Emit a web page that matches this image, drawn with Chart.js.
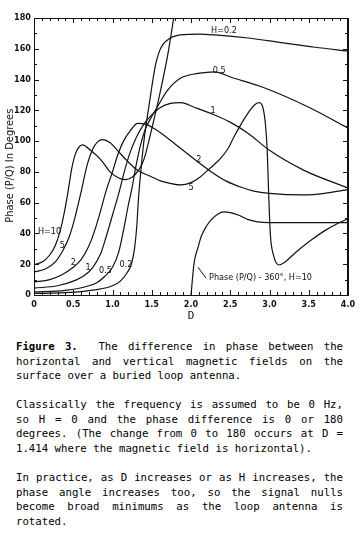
<!DOCTYPE html>
<html lang="en">
<head>
<meta charset="UTF-8">
<title>Phase difference between horizontal and vertical fields</title>
<script src="https://cdn.jsdelivr.net/npm/chart.js"></script>
<style>
  body { margin: 0; background: #fff; }
  #wrap { position: relative; width: 360px; height: 536px; overflow: hidden; }
  #chartBox { position: absolute; left: 0; top: 0; width: 360px; height: 325px; }
  .caption { position: absolute; left: 16px; width: 327px; font-family: 'DejaVu Sans Mono', monospace; font-size: 10.7px; color: #000; }
  .ln { height: 14.7px; line-height: 14.7px; white-space: nowrap; }
  .j { text-align: justify; text-align-last: justify; white-space: normal; overflow: hidden; }
</style>
</head>
<body>
<div id="wrap">
  <div id="chartBox"><canvas id="phaseChart"></canvas></div>

  <div class="caption" style="top:340px">
    <div class="ln j"><b>Figure 3.</b>&nbsp; The difference in phase between the</div>
    <div class="ln j">horizontal and vertical magnetic fields on the</div>
    <div class="ln">surface over a buried loop antenna.</div>
  </div>
  <div class="caption" style="top:398px">
    <div class="ln j">Classically the frequency is assumed to be 0 Hz,</div>
    <div class="ln j">so H = 0 and the phase difference is 0 or 180</div>
    <div class="ln j">degrees. (The change from 0 to 180 occurs at D =</div>
    <div class="ln">1.414 where the magnetic field is horizontal).</div>
  </div>
  <div class="caption" style="top:471px">
    <div class="ln j">In practice, as D increases or as H increases, the</div>
    <div class="ln j">phase angle increases too, so the signal nulls</div>
    <div class="ln j">become broad minimums as the loop antenna is</div>
    <div class="ln">rotated.</div>
  </div>
</div>

<script>
// axis ticks
const dTicks = [0, 0.5, 1, 1.5, 2, 2.5, 3, 3.5, 4];
const phaseTicks = [0, 20, 40, 60, 80, 100, 120, 140, 160, 180];
const yTitle = 'Phase (P/Q) In Degrees';

// phase (degrees) vs D, one list per H
const h02 = [[0,1],[0.4,1.5],[0.8,3.5],[1.0,6],[1.1,9],[1.18,14],[1.24,20],[1.28,30],[1.31,45],[1.33,62],[1.36,80],[1.4,100],[1.45,118],[1.5,135],[1.55,150],[1.62,161],[1.74,167],[1.87,169],[2.1,169.5],[2.3,169],[2.73,167],[3.15,164],[3.58,161],[4.0,158.5]];
const h05 = [[0,2],[0.4,3],[0.7,6],[0.8,8],[0.9,12],[1.0,18],[1.08,28],[1.14,42],[1.2,58],[1.25,70],[1.3,84],[1.36,98],[1.42,108],[1.5,116],[1.58,123],[1.7,133],[1.87,141],[2.09,144],[2.3,145],[2.51,141.5],[2.94,134.5],[3.5,122],[4.0,108.5]];
const h1 = [[0,4.5],[0.3,6],[0.5,9],[0.65,13],[0.75,18],[0.85,27],[0.92,38],[1.0,52],[1.08,66],[1.15,80],[1.22,92],[1.3,102],[1.4,111],[1.5,117],[1.6,121.5],[1.74,124.5],[1.87,125],[2.04,122],[2.3,117],[2.51,112],[2.73,105],[3.0,94],[3.44,81],[4.0,69.5]];
const h2 = [[0,8.5],[0.2,10],[0.35,13],[0.5,18],[0.6,23],[0.7,32],[0.78,43],[0.85,55],[0.92,68],[1.0,80],[1.06,90],[1.14,100],[1.23,107],[1.32,111.5],[1.42,111],[1.55,107.5],[1.65,104],[1.8,98],[1.95,92],[2.1,86],[2.26,80],[2.45,74],[2.64,70],[2.8,67.5],[3.0,66],[3.44,65],[3.7,66],[4.0,68.5]];
const h5 = [[0,15],[0.15,17],[0.28,22],[0.38,30],[0.45,38],[0.52,50],[0.6,67],[0.68,85],[0.75,95],[0.81,99.5],[0.87,101],[0.97,99],[1.08,93],[1.19,87],[1.32,81],[1.49,77],[1.62,74],[1.74,72.5],[1.87,71.5],[2.0,73],[2.1,76],[2.19,80],[2.3,85],[2.38,89],[2.47,95],[2.55,103],[2.65,112],[2.75,120],[2.82,124],[2.87,125],[2.92,121],[2.95,110],[2.97,95],[2.99,65],[3.01,40],[3.05,26],[3.12,19.5],[3.2,21.5],[3.27,24.7],[3.4,30.5],[3.54,36],[3.71,42],[3.85,46],[4.0,49.5]];
const h10 = [[0,19.5],[0.12,22],[0.2,26],[0.27,32],[0.33,41],[0.38,52],[0.43,66],[0.48,82],[0.53,92],[0.58,96.5],[0.62,97.5],[0.72,94],[0.85,88],[0.97,80],[1.08,76],[1.16,75],[1.25,76.5],[1.33,81],[1.4,88],[1.5,108],[1.6,130],[1.7,155],[1.77,177],[1.8,188]];
// same H=10 curve past 360 degrees, plotted as phase - 360
const h10Minus360 = [[1.995,-3],[2.04,21],[2.09,31],[2.13,38],[2.2,45],[2.26,49],[2.34,52.5],[2.42,54],[2.5,53.5],[2.6,52],[2.73,49],[2.85,47.5],[2.99,47],[3.5,47],[4.0,47]];

// curve labels, placed at (D, phase)
const curveLabels = [
  ['H=10', 0.05, 41, 'left'], ['5', 0.36, 32, 'center'], ['2', 0.5, 21, 'center'],
  ['1', 0.69, 17.5, 'center'], ['0.5', 0.91, 16, 'center'], ['0.2', 1.17, 19.5, 'center'],
  ['H=0.2', 2.42, 171.5, 'center'], ['0.5', 2.36, 146, 'center'], ['1', 2.28, 120, 'center'],
  ['2', 2.1, 88, 'center'], ['5', 2.0, 70, 'center'],
  ['Phase (P/Q) - 360°, H=10', 2.23, 11, 'left']
];
const leader = [[2.09, 18], [2.19, 11]];

const toXY = arr => arr.map(([x, y]) => ({ x, y }));
const line = data => ({
  data: toXY(data), borderColor: '#111', borderWidth: 1.2, pointRadius: 0,
  showLine: true, cubicInterpolationMode: 'monotone', fill: false
});

const narrow = '"Liberation Sans Narrow", "DejaVu Sans Condensed", sans-serif';

const frameAndLabels = {
  id: 'frameAndLabels',
  afterDatasetsDraw(chart) {
    const { ctx, chartArea: a, scales: { x, y } } = chart;
    ctx.save();
    ctx.strokeStyle = '#111';
    ctx.lineWidth = 1;
    ctx.strokeRect(a.left + 0.5, a.top + 0.5, a.right - a.left, a.bottom - a.top);
    ctx.lineWidth = 2;
    ctx.beginPath(); ctx.moveTo(a.right, a.top); ctx.lineTo(a.right, a.bottom); ctx.stroke();
    ctx.lineWidth = 1;
    ctx.beginPath();
    for (let i = 0; i <= 40; i++) {
      const px = Math.round(x.getPixelForValue(i / 10)) + 0.5;
      const len = i % 5 === 0 ? 5 : 3;
      ctx.moveTo(px, a.bottom); ctx.lineTo(px, a.bottom - len);
      ctx.moveTo(px, a.top); ctx.lineTo(px, a.top + len);
    }
    for (let v = 0; v <= 180; v += 10) {
      const py = Math.round(y.getPixelForValue(v)) + 0.5;
      const len = v % 20 === 0 ? 5 : 3;
      ctx.moveTo(a.left, py); ctx.lineTo(a.left + len, py);
      ctx.moveTo(a.right, py); ctx.lineTo(a.right - len, py);
    }
    ctx.stroke();

    ctx.fillStyle = '#111';
    ctx.font = '9px ' + narrow;
    ctx.textBaseline = 'middle';
    curveLabels.forEach(([t, d, p, al]) => {
      ctx.textAlign = al;
      ctx.fillText(t, x.getPixelForValue(d), y.getPixelForValue(p));
    });
    ctx.beginPath();
    ctx.moveTo(x.getPixelForValue(leader[0][0]), y.getPixelForValue(leader[0][1]));
    ctx.lineTo(x.getPixelForValue(leader[1][0]), y.getPixelForValue(leader[1][1]));
    ctx.stroke();

    // y axis title, a bit below the middle as in the figure
    ctx.translate(10, y.getPixelForValue(84));
    ctx.rotate(-Math.PI / 2);
    ctx.textAlign = 'center';
    ctx.font = '11px ' + narrow;
    ctx.fillText(yTitle, 0, 0);
    ctx.restore();
  }
};

const tickFont = { family: narrow, size: 9, weight: 'bold' };

new Chart(document.getElementById('phaseChart'), {
  type: 'scatter',
  data: {
    datasets: [line(h02), line(h05), line(h1), line(h2), line(h5), line(h10), line(h10Minus360)]
  },
  options: {
    responsive: true,
    maintainAspectRatio: false,
    animation: false,
    layout: { padding: { top: 18, right: 12, left: 0, bottom: 0 } },
    plugins: { legend: { display: false }, tooltip: { enabled: false } },
    scales: {
      x: {
        type: 'linear', min: 0, max: 4,
        afterFit: s => { s.height = 30; },
        afterBuildTicks: s => { s.ticks = dTicks.map(v => ({ value: v })); },
        grid: { display: false, drawTicks: false }, border: { display: false },
        ticks: { color: '#111', font: tickFont, padding: 4, maxRotation: 0,
          callback: v => v === 0 ? '0' : v.toFixed(1) },
        title: { display: true, text: 'D', color: '#111', padding: { top: 0, bottom: 2 },
          font: { family: '"DejaVu Sans Mono", monospace', size: 11 } }
      },
      y: {
        type: 'linear', min: 0, max: 180,
        afterFit: s => { s.width = 34; },
        afterBuildTicks: s => { s.ticks = phaseTicks.map(v => ({ value: v })); },
        grid: { display: false, drawTicks: false }, border: { display: false },
        ticks: { color: '#111', font: tickFont, padding: 3 }
      }
    }
  },
  plugins: [frameAndLabels]
});
</script>
</body>
</html>
